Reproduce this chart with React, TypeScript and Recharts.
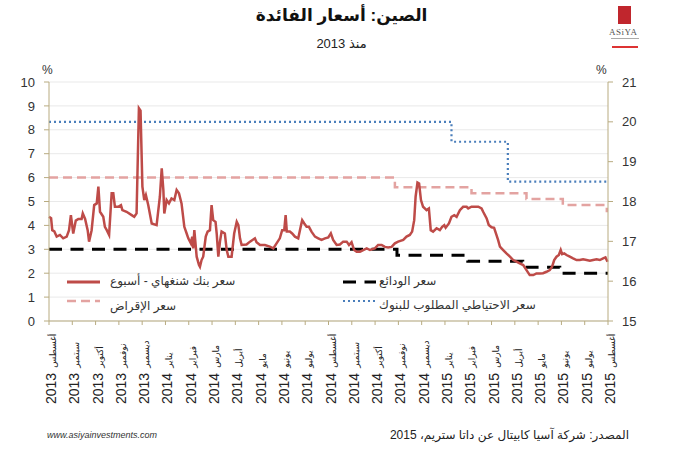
import React from 'react';
import { LineChart, Line, XAxis, YAxis, CartesianGrid } from 'recharts';

// month index 0 = Aug 2013 ... 24 = Aug 2015
const monthNames = [
  'أغسطس', 'سبتمبر', 'أكتوبر', 'نوفمبر', 'ديسمبر',
  'يناير', 'فبراير', 'مارس', 'أبريل', 'مايو', 'يونيو', 'يوليو',
  'أغسطس', 'سبتمبر', 'أكتوبر', 'نوفمبر', 'ديسمبر',
  'يناير', 'فبراير', 'مارس', 'أبريل', 'مايو', 'يونيو', 'يوليو', 'أغسطس',
];
const tickYears = [
  '2013', '2013', '2013', '2013', '2013',
  '2014', '2014', '2014', '2014', '2014', '2014', '2014',
  '2014', '2014', '2014', '2014', '2014',
  '2015', '2015', '2015', '2015', '2015', '2015', '2015', '2015',
];
const monthTicks = monthNames.map((_, i) => i);
const leftTicks = [0, 1, 2, 3, 4, 5, 6, 7, 8, 9, 10];
const rightTicks = [15, 16, 17, 18, 19, 20, 21];

// Shibor 1 week [month, %]
const shibor: [number, number][] = [
  [0.0, 4.36], [0.09, 4.3], [0.14, 3.8], [0.23, 3.75], [0.33, 3.53], [0.47, 3.6], [0.61, 3.46],
  [0.76, 3.53], [0.86, 3.8], [0.94, 4.43], [1.04, 3.66], [1.15, 4.2], [1.26, 4.27], [1.4, 4.27],
  [1.45, 4.5], [1.55, 4.27], [1.66, 3.8], [1.72, 3.32], [1.83, 3.8], [1.94, 4.85], [2.05, 4.92],
  [2.12, 5.62], [2.19, 4.57], [2.33, 4.36], [2.4, 3.94], [2.48, 3.8], [2.58, 3.6], [2.69, 5.34],
  [2.76, 5.34], [2.83, 4.78], [2.97, 4.78], [3.09, 4.85], [3.15, 4.64], [3.33, 4.57], [3.55, 4.43],
  [3.66, 4.36], [3.76, 4.5], [3.86, 8.9], [3.93, 8.8], [4.01, 5.62], [4.09, 5.06], [4.16, 5.27],
  [4.26, 4.85], [4.41, 4.08], [4.62, 4.01], [4.76, 5.2], [4.84, 6.39], [4.91, 5.48], [4.95, 4.5],
  [5.05, 5.06], [5.15, 4.92], [5.26, 5.13], [5.38, 5.06], [5.48, 5.48], [5.58, 5.34], [5.69, 4.92],
  [5.81, 3.94], [5.91, 3.66], [5.98, 3.46], [6.09, 3.25], [6.15, 3.53], [6.19, 3.04], [6.24, 3.8],
  [6.34, 2.69], [6.44, 2.34], [6.48, 2.27], [6.55, 2.55], [6.62, 2.69], [6.73, 3.53], [6.81, 3.74],
  [6.91, 3.8], [6.98, 4.85], [7.05, 4.22], [7.15, 4.15], [7.2, 3.66], [7.27, 2.69], [7.34, 3.32],
  [7.41, 3.74], [7.55, 3.66], [7.63, 2.97], [7.7, 2.69], [7.84, 2.69], [7.95, 3.66], [8.06, 4.15],
  [8.13, 4.01], [8.2, 3.46], [8.27, 3.18], [8.48, 3.2], [8.63, 3.32], [8.84, 3.46], [8.91, 3.3],
  [9.06, 3.18], [9.27, 3.18], [9.48, 3.11], [9.63, 3.04], [9.77, 3.25], [9.91, 3.46], [10.01, 3.8],
  [10.1, 3.8], [10.16, 4.43], [10.21, 3.74], [10.34, 3.74], [10.44, 3.66], [10.56, 3.53], [10.7, 3.46],
  [10.82, 4.01], [10.87, 4.22], [10.96, 4.08], [11.06, 3.94], [11.16, 3.94], [11.27, 3.74], [11.42, 3.53],
  [11.56, 3.46], [11.7, 3.39], [11.85, 3.46], [11.99, 3.5], [12.1, 3.67], [12.2, 3.39], [12.35, 3.18],
  [12.49, 3.2], [12.63, 3.32], [12.78, 3.32], [12.88, 3.18], [12.99, 3.3], [13.1, 2.97], [13.21, 2.9],
  [13.35, 2.9], [13.49, 2.97], [13.64, 3.04], [13.78, 2.97], [13.99, 3.04], [14.13, 3.18], [14.28, 3.18],
  [14.42, 3.1], [14.56, 3.08], [14.71, 3.1], [14.85, 3.25], [14.99, 3.32], [15.21, 3.39], [15.35, 3.53],
  [15.49, 3.6], [15.59, 3.74], [15.68, 4.22], [15.74, 5.2], [15.82, 5.79], [15.89, 5.75], [15.97, 5.06],
  [16.06, 4.78], [16.21, 4.64], [16.31, 4.71], [16.39, 3.8], [16.49, 3.74], [16.64, 3.88], [16.78, 3.8],
  [16.88, 3.94], [16.97, 4.01], [17.03, 3.9], [17.17, 4.08], [17.28, 4.36], [17.4, 4.43], [17.5, 4.36],
  [17.64, 4.64], [17.78, 4.78], [17.93, 4.78], [18.0, 4.71], [18.14, 4.78], [18.28, 4.78], [18.43, 4.78],
  [18.57, 4.71], [18.64, 4.57], [18.79, 4.29], [18.88, 4.02], [19.0, 3.92], [19.11, 3.9], [19.21, 3.6],
  [19.28, 3.39], [19.36, 3.11], [19.5, 2.97], [19.64, 2.83], [19.79, 2.69], [19.93, 2.55], [20.07, 2.48],
  [20.21, 2.41], [20.36, 2.34], [20.5, 2.13], [20.64, 1.92], [20.79, 1.92], [20.93, 1.99], [21.07, 1.99],
  [21.21, 2.0], [21.36, 2.06], [21.5, 2.13], [21.6, 2.27], [21.69, 2.55], [21.79, 2.69], [21.89, 2.76],
  [21.97, 2.97], [22.03, 2.8], [22.12, 2.83], [22.22, 2.76], [22.36, 2.69], [22.5, 2.62], [22.65, 2.55],
  [22.79, 2.55], [22.93, 2.58], [23.08, 2.55], [23.22, 2.52], [23.36, 2.55], [23.51, 2.58], [23.65, 2.55],
  [23.79, 2.62], [23.89, 2.66], [23.98, 2.48],
];

// benchmark rates, step changes [month, %]
const depositRate: [number, number][] = [
  [0, 3.0], [14.94, 2.75], [17.98, 2.5], [20.34, 2.25], [21.93, 2.0], [24, 2.0],
];
const lendingRate: [number, number][] = [
  [0, 6.0], [14.85, 5.6], [18.14, 5.35], [20.5, 5.1], [22.06, 4.85], [23.95, 4.6], [24, 4.6],
];
// reserve requirement ratio, right axis [month, %]
const reserveRatio: [number, number][] = [
  [0, 20.0], [17.28, 19.5], [19.7, 18.5], [24, 18.5],
];

const toRows = (pts: [number, number][]) => pts.map(([m, v]) => ({ m, v }));

const latin = "'Liberation Sans', Arial, 'DejaVu Sans', sans-serif";
const arabic = "'Liberation Sans', 'DejaVu Sans', sans-serif";
const axisColor = '#b8ab80';

const MonthTick = (props: any) => {
  const { x, payload } = props;
  const i = payload.value as number;
  return (
    <text transform={`translate(${x + 7}, 404) rotate(-90)`} textAnchor="start" fill="#222">
      <tspan fontSize={14} fontFamily={latin}>{tickYears[i]}</tspan>
      <tspan fontSize={9} fontFamily={arabic} dx={5}>{monthNames[i]}</tspan>
    </text>
  );
};

const abs = (left: number, top: number, extra: React.CSSProperties = {}): React.CSSProperties => ({
  position: 'absolute', left, top, whiteSpace: 'nowrap', ...extra,
});

export default function App() {
  return (
    <div style={{ position: 'absolute', left: 0, top: 0, width: 683, height: 450, background: '#fff', overflow: 'hidden' }}>
      <LineChart width={683} height={450} margin={{ top: 82, right: 0, bottom: 59, left: 0 }}>
        <CartesianGrid vertical={false} yAxisId="left" stroke="#e9e9e9" />
        <XAxis
          dataKey="m"
          type="number"
          domain={[0, 24]}
          ticks={monthTicks}
          interval={0}
          height={70}
          tick={<MonthTick />}
          tickSize={4}
          axisLine={{ stroke: axisColor }}
          tickLine={{ stroke: axisColor }}
          allowDuplicatedCategory={false}
        />
        <YAxis
          yAxisId="left"
          domain={[0, 10]}
          ticks={leftTicks}
          width={49}
          tickSize={5}
          tickMargin={9}
          axisLine={{ stroke: axisColor }}
          tickLine={{ stroke: axisColor }}
          tick={{ fontSize: 13, fill: '#333', fontFamily: latin }}
        />
        <YAxis
          yAxisId="right"
          orientation="right"
          domain={[15, 21]}
          ticks={rightTicks}
          width={75}
          tickSize={5}
          tickMargin={9}
          axisLine={{ stroke: axisColor }}
          tickLine={{ stroke: axisColor }}
          tick={{ fontSize: 13, fill: '#333', fontFamily: latin, textAnchor: 'start' }}
        />
        <Line yAxisId="left" data={toRows(lendingRate)} dataKey="v" type="stepAfter" stroke="#e3a3a1"
          strokeWidth={2.5} strokeDasharray="9 5" dot={false} isAnimationActive={false} />
        <Line yAxisId="right" data={toRows(reserveRatio)} dataKey="v" type="stepAfter" stroke="#4a7ebb"
          strokeWidth={2.2} strokeDasharray="2 3" dot={false} isAnimationActive={false} />
        <Line yAxisId="left" data={toRows(depositRate)} dataKey="v" type="stepAfter" stroke="#000"
          strokeWidth={3} strokeDasharray="13 8.5" dot={false} isAnimationActive={false} />
        <Line yAxisId="left" data={toRows(shibor)} dataKey="v" type="linear" stroke="#be4b48"
          strokeWidth={2.5} dot={false} isAnimationActive={false} />
      </LineChart>

      {/* title */}
      <div dir="rtl" style={abs(0, 5, { width: 683, textAlign: 'center', fontFamily: arabic, fontWeight: 'bold', fontSize: 17, color: '#111' })}>
        الصين: أسعار الفائدة
      </div>
      <div dir="rtl" style={abs(0, 36, { width: 683, textAlign: 'center', fontFamily: arabic, fontSize: 13, color: '#222' })}>
        منذ 2013
      </div>
      <div style={abs(42, 63, { fontFamily: latin, fontSize: 12, color: '#333' })}>%</div>
      <div style={abs(596, 63, { fontFamily: latin, fontSize: 12, color: '#333' })}>%</div>

      {/* logo */}
      <div style={abs(618, 6, { width: 13, height: 18, background: '#c0262d' })} />
      <div style={abs(609, 27, { fontFamily: 'serif', fontSize: 9, color: '#555', letterSpacing: 0.5 })}>ASiYA</div>
      <div style={abs(611, 38, { width: 28, height: 1, background: '#aaa' })} />
      <div style={abs(612, 46, { width: 26, height: 2, background: '#d33' })} />

      {/* legend */}
      <svg width={683} height={450} style={{ position: 'absolute', left: 0, top: 0 }}>
        <line x1={67} x2={100} y1={282} y2={282} stroke="#be4b48" strokeWidth={3} />
        <line x1={67} x2={100} y1={301} y2={301} stroke="#e3a3a1" strokeWidth={2.5} strokeDasharray="9 5" />
        <line x1={343} x2={376} y1={282} y2={282} stroke="#000" strokeWidth={3} strokeDasharray="13 8.5" />
        <line x1={343} x2={376} y1={301} y2={301} stroke="#4a7ebb" strokeWidth={2.2} strokeDasharray="2 3" />
      </svg>
      <div dir="rtl" style={abs(110, 274, { fontFamily: arabic, fontSize: 12, color: '#333' })}>سعر بنك شنغهاي - أسبوع</div>
      <div dir="rtl" style={abs(110, 299, { fontFamily: arabic, fontSize: 12, color: '#333' })}>سعر الإقراض</div>
      <div dir="rtl" style={abs(379, 274, { fontFamily: arabic, fontSize: 12, color: '#333' })}>سعر الودائع</div>
      <div dir="rtl" style={abs(379, 298, { fontFamily: arabic, fontSize: 12, color: '#333' })}>سعر الاحتياطي المطلوب للبنوك</div>

      {/* footer */}
      <div style={abs(47, 430, { fontFamily: latin, fontSize: 9, fontStyle: 'italic', color: '#333' })}>www.asiyainvestments.com</div>
      <div dir="rtl" style={abs(405, 428, { width: 224, textAlign: 'right', fontFamily: arabic, fontSize: 12, color: '#222' })}>
        المصدر: شركة آسيا كابيتال عن داتا ستريم، 2015
      </div>
    </div>
  );
}
